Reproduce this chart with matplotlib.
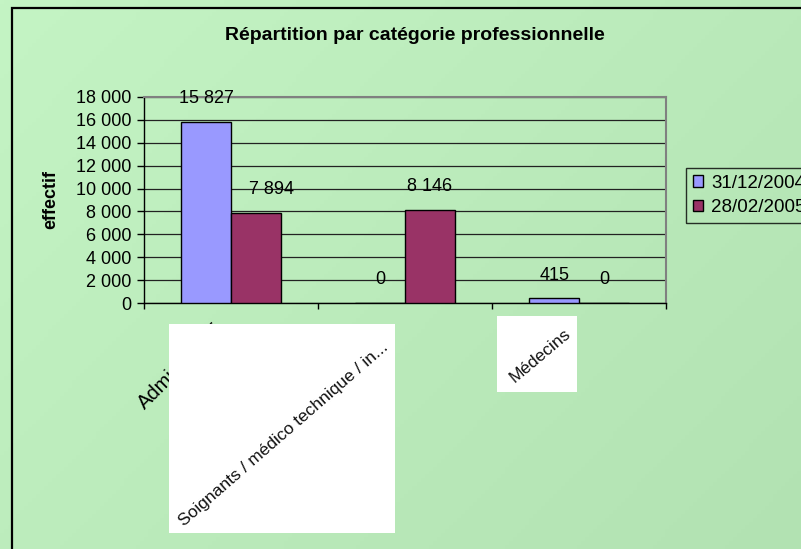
import matplotlib
matplotlib.use("Agg")
import matplotlib.pyplot as plt
import numpy as np
from matplotlib.patches import Rectangle
from matplotlib.ticker import FuncFormatter, FixedLocator
from matplotlib.transforms import offset_copy

plt.rcParams['font.family'] = ['Liberation Sans', 'DejaVu Sans']

# ---------------- data ----------------
title = "Répartition par catégorie professionnelle"
ylabel = "effectif"
categories = ["Administratif", "Soignants / médico technique / in...", "Médecins"]
series_names = ["31/12/2004", "28/02/2005"]
values_2004 = [15827, 0, 415]
values_2005 = [7894, 8146, 0]
yticks = [0, 2000, 4000, 6000, 8000, 10000, 12000, 14000, 16000, 18000]

colors = ["#9999FF", "#993366"]

W, H = 801, 549
fig = plt.figure(figsize=(W / 100, H / 100), dpi=100)

def fx(x):
    return x / W

def fy(y):
    return 1 - y / H

# background gradient
bg = fig.add_axes([0, 0, 1, 1], zorder=-10)
nx, ny = 200, 140
gx = np.linspace(0, 1, nx)[None, :]
gy = np.linspace(0, 1, ny)[:, None]
t = 0.6 * gx + 0.4 * gy
c0 = np.array([196, 244, 196]) / 255.0
c1 = np.array([178, 226, 178]) / 255.0
img = c0[None, None, :] * (1 - t[..., None]) + c1[None, None, :] * t[..., None]
bg.imshow(img, extent=[0, 1, 0, 1], aspect='auto', origin='upper')
bg.set_xlim(0, 1)
bg.set_ylim(0, 1)
bg.axis('off')

# outer border
fig.patches.append(Rectangle((fx(12), fy(560)), fx(820) - fx(12), fy(8) - fy(560),
                             transform=fig.transFigure, fill=False,
                             edgecolor='black', linewidth=1.6, zorder=1))

# main axes
left, right, top, bottom = 144, 666, 97, 303
ax = fig.add_axes([fx(left), fy(bottom), fx(right) - fx(left), (bottom - top) / H])
ax.set_facecolor('none')

x = np.arange(len(categories))
w = 1 / 3.5
ax.bar(x - w / 2, values_2004, w, color=colors[0], edgecolor='black', linewidth=1.0,
       zorder=3, label=series_names[0])
ax.bar(x + w / 2, values_2005, w, color=colors[1], edgecolor='black', linewidth=1.0,
       zorder=3, label=series_names[1])

ax.set_xlim(-0.5, len(categories) - 0.5)
ax.set_ylim(0, 18000)
ax.set_yticks(yticks)
ax.yaxis.set_major_formatter(FuncFormatter(lambda v, p: f"{int(v):,}".replace(",", " ")))
ax.yaxis.grid(True, color='#222222', linewidth=0.9, zorder=0)
ax.set_axisbelow(True)
ax.tick_params(axis='y', labelsize=13, length=5, width=1, direction='out', pad=4)
ax.xaxis.set_major_locator(FixedLocator(np.arange(-0.5, len(categories), 1.0)))
ax.tick_params(axis='x', labelbottom=False, length=4, width=1, direction='out')

for s in ['left', 'bottom']:
    ax.spines[s].set_color('black')
    ax.spines[s].set_linewidth(1.0)
for s in ['top', 'right']:
    ax.spines[s].set_color('#808080')
    ax.spines[s].set_linewidth(1.5)

ax.set_ylabel(ylabel, fontsize=13, fontweight='bold', labelpad=12)

# data labels
label_dx = [[0, 0, 0], [16, 0, 0]]
for si, vals in enumerate([values_2004, values_2005]):
    off = -w / 2 if si == 0 else w / 2
    for i, v in enumerate(vals):
        ax.annotate(f"{v:,}".replace(",", " "), xy=(x[i] + off, v),
                    xytext=(label_dx[si][i], 23), textcoords='offset pixels',
                    ha='center', va='center', fontsize=13, zorder=5,
                    annotation_clip=False)

# title
fig.text(fx(415), fy(36), title, ha='center', va='center', fontsize=14,
         fontweight='bold')

# category labels
ax.annotate(categories[0], xy=(x[0], 0), xytext=(-18, -18), textcoords='offset pixels',
            rotation=45, rotation_mode='anchor', ha='right', va='top', fontsize=14.5,
            annotation_clip=False, zorder=4)

# white boxes (pasted label images)
fig.patches.append(Rectangle((fx(169), fy(533)), fx(395) - fx(169), fy(324) - fy(533),
                             transform=fig.transFigure, facecolor='white',
                             edgecolor='none', zorder=20))
fig.patches.append(Rectangle((fx(497), fy(392)), fx(577) - fx(497), fy(316) - fy(392),
                             transform=fig.transFigure, facecolor='white',
                             edgecolor='none', zorder=20))

tr1 = offset_copy(ax.transData, fig=fig, x=-19, y=-42, units='dots')
fig.text(x[1], 0, categories[1], transform=tr1, rotation=41, rotation_mode='anchor',
         ha='right', va='center', fontsize=12.5, color='#111111', zorder=30)
tr2 = offset_copy(ax.transData, fig=fig, x=-10, y=-29, units='dots')
fig.text(x[2], 0, categories[2], transform=tr2, rotation=40, rotation_mode='anchor',
         ha='right', va='center', fontsize=12.5, color='#111111', zorder=30)

# legend
handles, labels = ax.get_legend_handles_labels()
leg = fig.legend(handles, labels, loc='upper left',
                 bbox_to_anchor=(fx(686), fy(168)), fontsize=13.5, frameon=True,
                 fancybox=False, edgecolor='black', facecolor='none',
                 borderpad=0.35, labelspacing=0.4, handlelength=0.55,
                 handleheight=0.55, handletextpad=0.45, borderaxespad=0)
leg.get_frame().set_linewidth(1.0)

fig.savefig("out.png", dpi=100)
